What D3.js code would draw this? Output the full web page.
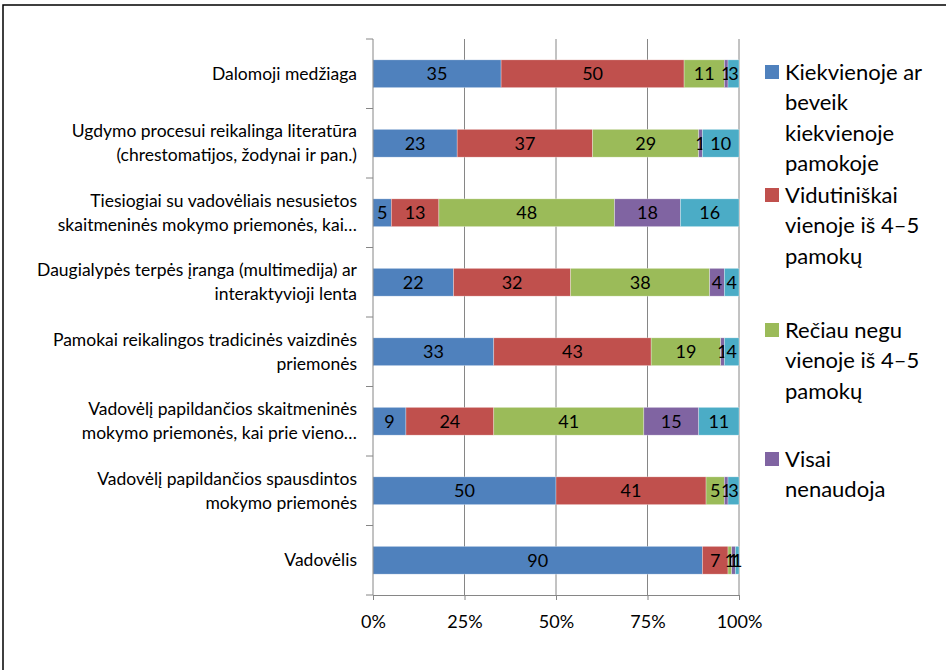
<!DOCTYPE html>
<html>
<head>
<meta charset="utf-8">
<script src="https://cdn.jsdelivr.net/npm/d3@7"></script>
<style>
  body { margin: 0; background: #fff; }
  svg text { font-family: Lato, "Open Sans", sans-serif; fill: #000; }
</style>
</head>
<body>
<div id="chart"></div>
<script>
// data
const categories = [
  ["Dalomoji medžiaga"],
  ["Ugdymo procesui reikalinga literatūra", "(chrestomatijos, žodynai ir pan.)"],
  ["Tiesiogiai su vadovėliais nesusietos", "skaitmeninės mokymo priemonės, kai…"],
  ["Daugialypės terpės įranga (multimedija) ar", "interaktyvioji lenta"],
  ["Pamokai reikalingos tradicinės vaizdinės", "priemonės"],
  ["Vadovėlį papildančios skaitmeninės", "mokymo priemonės, kai prie vieno…"],
  ["Vadovėlį papildančios spausdintos", "mokymo priemonės"],
  ["Vadovėlis"]
];
const seriesNames = [
  ["Kiekvienoje ar", "beveik", "kiekvienoje", "pamokoje"],
  ["Vidutiniškai", "vienoje iš 4–5", "pamokų"],
  ["Rečiau negu", "vienoje iš 4–5", "pamokų"],
  ["Visai", "nenaudoja"],
  ["Nežinau"]
];
const every   = [35, 23, 5, 22, 33, 9, 50, 90];
const average = [50, 37, 13, 32, 43, 24, 41, 7];
const rarely  = [11, 29, 48, 38, 19, 41, 5, 1];
const never   = [1, 1, 18, 4, 1, 15, 1, 1];
const other   = [3, 10, 16, 4, 4, 11, 3, 1];
const tickValues = [0, 0.25, 0.5, 0.75, 1];
const tickLabels = ["0%", "25%", "50%", "75%", "100%"];
const colors = ["#4F81BD", "#C0504D", "#9BBB59", "#8064A2", "#4BACC6"];

// setup
const width = 946, height = 670;
const margin = {top: 39, left: 373, right: 207, bottom: 75};
const plotW = width - margin.left - margin.right;
const plotH = height - margin.top - margin.bottom;

const svg = d3.select("#chart").append("svg")
    .attr("width", width)
    .attr("height", height);

// frame (cut off at right and bottom)
svg.append("rect")
    .attr("x", 3).attr("y", 5)
    .attr("width", 1200).attr("height", 1200)
    .attr("fill", "none")
    .attr("stroke", "#000")
    .attr("stroke-width", 1.5);

const table = categories.map((c, i) => ({
  idx: i,
  vals: [every[i], average[i], rarely[i], never[i], other[i]]
}));
const keys = [0, 1, 2, 3, 4];
const stacked = d3.stack()
    .keys(keys)
    .value((d, k) => d.vals[k] / d3.sum(d.vals))(table);

const x = d3.scaleLinear().domain([0, 1]).range([0, plotW]);
const y = d3.scaleBand()
    .domain(d3.range(categories.length))
    .range([0, plotH])
    .paddingInner(0.6)
    .paddingOuter(0.3);

const g = svg.append("g").attr("transform", `translate(${margin.left},${margin.top})`);

// gridlines
g.selectAll("line.grid")
  .data(tickValues.slice(1))
    .enter()
  .append("line")
    .attr("class", "grid")
    .attr("x1", d => x(d)).attr("x2", d => x(d))
    .attr("y1", 0).attr("y2", plotH)
    .attr("stroke", "#868686")
    .attr("stroke-width", 1);

// bars
const layers = g.selectAll("g.layer")
  .data(stacked)
    .enter()
  .append("g")
    .attr("class", "layer")
    .attr("fill", (d, i) => colors[i]);

layers.selectAll("rect")
  .data(d => d)
    .enter()
  .append("rect")
    .attr("x", d => x(d[0]))
    .attr("y", d => y(d.data.idx))
    .attr("width", d => x(d[1]) - x(d[0]))
    .attr("height", y.bandwidth())
    .attr("stroke", "#fff")
    .attr("stroke-opacity", 0.5)
    .attr("stroke-width", 0.6);

// data labels
layers.each(function(layer) {
  d3.select(this).selectAll("text")
    .data(layer)
      .enter()
    .append("text")
      .attr("x", d => x((d[0] + d[1]) / 2))
      .attr("y", d => y(d.data.idx) + y.bandwidth() / 2)
      .attr("dy", "0.36em")
      .attr("text-anchor", "middle")
      .attr("font-size", 18)
      .text(d => d.data.vals[layer.key]);
});

// y axis line and ticks
g.append("line")
    .attr("x1", 0).attr("x2", 0)
    .attr("y1", 0).attr("y2", plotH)
    .attr("stroke", "#868686");
g.selectAll("line.ytick")
  .data(d3.range(categories.length + 1))
    .enter()
  .append("line")
    .attr("x1", -7).attr("x2", 0)
    .attr("y1", d => d * plotH / categories.length)
    .attr("y2", d => d * plotH / categories.length)
    .attr("stroke", "#868686");

// x axis
const xAxis = d3.axisBottom(x)
    .tickValues(tickValues)
    .tickSize(5)
    .tickFormat((d, i) => tickLabels[i]);

const xg = g.append("g")
    .attr("transform", `translate(0,${plotH})`)
    .call(xAxis);
xg.select(".domain").attr("stroke", "#868686");
xg.selectAll(".tick line").attr("stroke", "#868686");
xg.selectAll(".tick text")
    .attr("font-size", 18)
    .attr("font-family", "Lato, sans-serif")
    .attr("fill", "#000")
    .attr("dy", "1.4em");

// category labels
const lineH = 24;
g.selectAll("text.cat")
  .data(categories)
    .enter()
  .append("text")
    .attr("class", "cat")
    .attr("text-anchor", "end")
    .attr("font-size", 17.5)
    .each(function(lines, i) {
      const cy = y(i) + y.bandwidth() / 2;
      const y0 = cy - (lines.length - 1) * lineH / 2;
      d3.select(this).selectAll("tspan")
        .data(lines)
          .enter()
        .append("tspan")
          .attr("x", -16)
          .attr("y", (d, j) => y0 + j * lineH)
          .attr("dy", "0.35em")
          .text(d => d);
    });

// legend (only four entries fit)
const legendTop = [72, 195, 330, 459];
const legendLineH = 30.5;
const legend = svg.append("g").attr("class", "legend");

const items = legend.selectAll("g")
  .data(seriesNames.slice(0, 4))
    .enter()
  .append("g")
    .attr("transform", (d, i) => `translate(765,${legendTop[i]})`);

items.append("rect")
    .attr("x", 0).attr("y", -7)
    .attr("width", 14).attr("height", 14)
    .attr("fill", (d, i) => colors[i]);

items.append("text")
    .attr("font-size", 22)
    .selectAll("tspan")
    .data(d => d)
      .enter()
    .append("tspan")
      .attr("x", 20)
      .attr("y", (d, j) => j * legendLineH)
      .attr("dy", "0.35em")
      .text(d => d);
</script>
</body>
</html>
